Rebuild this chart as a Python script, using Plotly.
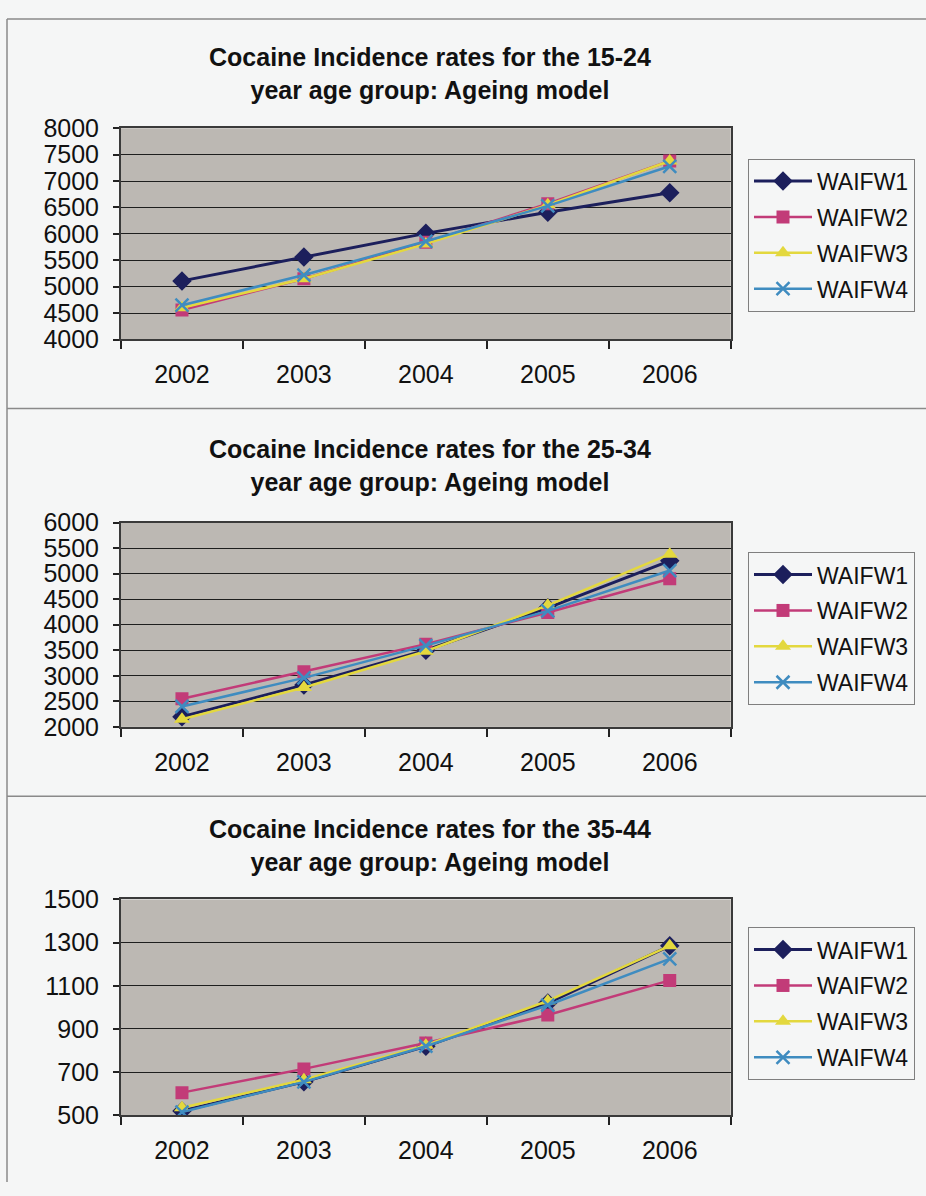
import plotly.graph_objects as go

years = ["2002", "2003", "2004", "2005", "2006"]
series_names = ["WAIFW1", "WAIFW2", "WAIFW3", "WAIFW4"]

titles = [
    "Cocaine Incidence rates for the 15-24<br>year age group: Ageing model",
    "Cocaine Incidence rates for the 25-34<br>year age group: Ageing model",
    "Cocaine Incidence rates for the 35-44<br>year age group: Ageing model",
]

# Panel 1: 15-24
p1_w1 = [5110, 5560, 6010, 6410, 6780]
p1_w2 = [4560, 5150, 5840, 6570, 7380]
p1_w3 = [4600, 5150, 5810, 6550, 7380]
p1_w4 = [4650, 5220, 5860, 6530, 7280]

# Panel 2: 25-34
p2_w1 = [2200, 2820, 3500, 4330, 5250]
p2_w2 = [2550, 3080, 3620, 4240, 4900]
p2_w3 = [2150, 2770, 3480, 4380, 5380]
p2_w4 = [2400, 2960, 3590, 4270, 5060]

# Panel 3: 35-44
p3_w1 = [520, 655, 820, 1020, 1285]
p3_w2 = [605, 715, 835, 965, 1125]
p3_w3 = [535, 665, 825, 1030, 1285]
p3_w4 = [515, 655, 820, 1010, 1225]

y_ranges = [(4000, 8000, 500), (2000, 6000, 500), (500, 1500, 200)]

panels = [
    [p1_w1, p1_w2, p1_w3, p1_w4],
    [p2_w1, p2_w2, p2_w3, p2_w4],
    [p3_w1, p3_w2, p3_w3, p3_w4],
]

W, H = 926, 1196
FONT = "Liberation Sans, Arial, sans-serif"
colors = ["#1c1f5c", "#c23b78", "#e3d83e", "#3f8cc0"]
symbols = ["diamond", "square", "triangle-up", "x-thin"]
msizes = [15, 13, 14, 13]
lwidths = [3, 2.5, 2.5, 2.5]

# pixel geometry (top, bottom of plot area) for each panel
plot_px = [(117, 333.3), (520.7, 730), (906.7, 1127.7)]
title_px = [61, 462, 851]
legend_top_px = [148, 551, 935]
x_left, x_right = 121, 730.7

def py(v):
    return 1 - v / H

fig = go.Figure()
layout = dict(
    width=W, height=H, autosize=False,
    margin=dict(l=0, r=0, t=0, b=0),
    paper_bgcolor="#f5f6f6",
    plot_bgcolor="#bcb8b3",
    showlegend=True,
    font=dict(family=FONT, color="#111111"),
)

annotations = []
for i, (data, (y0, y1, dt)) in enumerate(zip(panels, y_ranges)):
    n = i + 1
    xa = "x" if n == 1 else f"x{n}"
    ya = "y" if n == 1 else f"y{n}"
    lg = "legend" if n == 1 else f"legend{n}"
    for j, vals in enumerate(data):
        sym_line = dict(width=2.5, color=colors[j]) if symbols[j] == "x-thin" else dict(width=0)
        fig.add_trace(go.Scatter(
            x=years, y=vals, name=series_names[j], mode="lines+markers",
            line=dict(color=colors[j], width=lwidths[j]),
            marker=dict(symbol=symbols[j], size=msizes[j], color=colors[j], line=sym_line),
            xaxis=xa, yaxis=ya, legend=lg, legendgroup=f"g{n}{j}",
        ))
    top, bot = plot_px[i]
    layout[f"xaxis{'' if n == 1 else n}"] = dict(
        domain=[x_left / W, x_right / W], anchor=ya,
        type="category", range=[-0.5, 4.5], tickson="boundaries",
        ticks="outside", ticklen=8, tickcolor="#222222", tickwidth=1.5,
        showline=True, mirror=True, linecolor="#3a3a3a", linewidth=2,
        showgrid=False, tickfont=dict(family=FONT, size=25, color="#111111"),
        ticklabelstandoff=12, fixedrange=True,
    )
    layout[f"yaxis{'' if n == 1 else n}"] = dict(
        domain=[py(bot), py(top)], anchor=xa,
        range=[y0, y1], dtick=dt, tick0=y0,
        ticks="outside", ticklen=6, tickcolor="#222222", tickwidth=1.5,
        showline=True, mirror=True, linecolor="#3a3a3a", linewidth=2,
        showgrid=True, gridcolor="#1e1e1e", gridwidth=1.3, zeroline=False,
        tickfont=dict(family=FONT, size=25, color="#111111"),
        ticklabelstandoff=9, fixedrange=True,
    )
    layout[lg] = dict(
        x=748 / W, xanchor="left", y=py(legend_top_px[i]), yanchor="top",
        bgcolor="#f5f6f6", bordercolor="#7f7f7f", borderwidth=1,
        font=dict(family=FONT, size=23, color="#111111"),
        traceorder="grouped", tracegroupgap=3, itemwidth=58,
    )
    annotations.append(dict(
        text=f"<b>{titles[i]}</b>", x=430 / W, y=py(title_px[i]),
        xref="paper", yref="paper", xanchor="center", yanchor="middle",
        showarrow=False, font=dict(family=FONT, size=25, color="#111111"),
    ))

shapes = []
line_style = dict(color="#8a8a8a", width=1.5)
shapes.append(dict(type="line", xref="paper", yref="paper", x0=7 / W, x1=1, y0=py(5), y1=py(5), line=line_style))
shapes.append(dict(type="line", xref="paper", yref="paper", x0=7 / W, x1=7 / W, y0=py(5), y1=0, line=line_style))
for ysep in (404, 801):
    shapes.append(dict(type="line", xref="paper", yref="paper", x0=7 / W, x1=1, y0=py(ysep), y1=py(ysep), line=line_style))

layout["annotations"] = annotations
layout["shapes"] = shapes
fig.update_layout(**layout)
fig.write_html(
    "out.html",
    config={"displayModeBar": False},
    post_script="document.documentElement.style.margin='0';document.body.style.margin='0';document.body.style.overflow='hidden';document.body.style.background='#f5f6f6';",
)
